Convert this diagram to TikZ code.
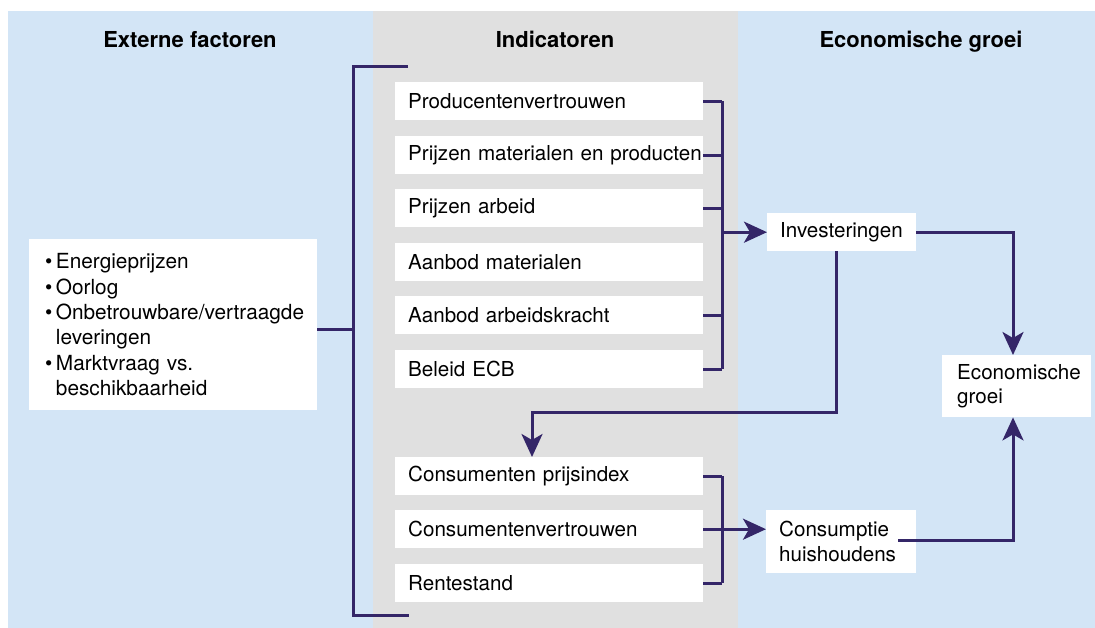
\documentclass[tikz,border=0pt]{standalone}
\usepackage{fontspec}
\setmainfont{TeX Gyre Heros}
\usetikzlibrary{arrows.meta}
\definecolor{panelblue}{RGB}{211,229,246}
\definecolor{panelgrey}{RGB}{224,224,224}
\definecolor{linec}{RGB}{52,38,104}
\tikzset{
  x=1pt, y=-1pt,
  box/.style={fill=white, draw=none, anchor=north west, inner xsep=13pt, inner ysep=0pt,
    align=left, font=\fontsize{20.6}{24.5}\selectfont},
  ind/.style={box, text width=282pt, minimum height=38pt},
  head/.style={anchor=base, font=\fontsize{22}{26}\selectfont\bfseries},
  conn/.style={draw=linec, line width=3pt},
  arr/.style={conn, -{Stealth[length=23pt,width=21pt,inset=6pt]}}
}
\begin{document}
\begin{tikzpicture}
\useasboundingbox (0,0) rectangle (1095,628);
\fill[white] (0,0) rectangle (1095,628);
\fill[panelblue] (8,11) rectangle (373,628);
\fill[panelgrey] (373,11) rectangle (738,628);
\fill[panelblue] (738,11) rectangle (1095,628);

\node[head] (h1) at (190,48) {Externe factoren};
\node[head] (h2) at (555,48) {Indicatoren};
\node[head] (h3) at (921,48) {Economische groei};

% left box
\node[box, text width=256pt, inner xsep=16pt, minimum height=171pt,
  font=\fontsize{20.8}{25.4}\selectfont] (ext) at (29,239)
  {\textbullet\,Energieprijzen\\
   \textbullet\,Oorlog\\
   \textbullet\,\mbox{Onbetrouwbare/vertraagde}\\
   \hphantom{\textbullet\,}leveringen\\
   \textbullet\,Marktvraag vs.\\
   \hphantom{\textbullet\,}beschikbaarheid};

% indicators
\node[ind] (p1) at (395,82)  {Producentenvertrouwen};
\node[ind] (p2) at (395,136) {\mbox{Prijzen materialen en producten}};
\node[ind] (p3) at (395,189) {Prijzen arbeid};
\node[ind] (p4) at (395,243) {Aanbod materialen};
\node[ind] (p5) at (395,296) {Aanbod arbeidskracht};
\node[ind] (p6) at (395,350) {Beleid ECB};

\node[ind] (c1) at (395,457) {Consumenten prijsindex};
\node[ind] (c2) at (395,510) {Consumentenvertrouwen};
\node[ind] (c3) at (395,564) {Rentestand};

% right nodes
\node[box, text width=123pt, minimum height=38pt] (inv) at (767,213) {Investeringen};
\node[box, text width=124pt, minimum height=63pt] (cons) at (766,510) {Consumptie\\huishoudens};
\node[box, text width=119pt, inner xsep=15pt, minimum height=62pt] (eg) at (942,355) {Economische\\groei};

% coordinates
\coordinate (rbx) at (722,0);
\coordinate (lbtop) at (408,67);
\coordinate (lbbot) at (409,615);
\coordinate (lbx) at (353,330);
\coordinate (ex) at (1013,0);
\coordinate (consout) at (898,540);
\coordinate (dn1) at (836,412);
\coordinate (dn2) at (532,412);

% left bracket
\draw[conn] (lbtop) -- (lbtop -| lbx) -- (lbbot -| lbx) -- (lbbot);
\draw[conn] (ext.east |- lbx) -- (lbx);

% upper right bracket
\foreach \n in {p1,p2,p3,p5,p6} \draw[conn] (\n.east) -- (\n.east -| rbx);
\draw[conn] (p1.east -| rbx) -- (p6.east -| rbx);
\draw[arr] (inv.west -| rbx) -- (inv.west);

% lower right bracket
\foreach \n in {c1,c3} \draw[conn] (\n.east) -- (\n.east -| rbx);
\draw[conn] (c1.east -| rbx) -- (c3.east -| rbx);
\draw[arr] (c2.east) -- (c2.east -| cons.west);

% investeringen to economische groei
\draw[arr] (inv.east) -- (inv.east -| ex) -- (eg.north -| ex);
% consumptie to economische groei
\draw[arr] (consout) -- (consout -| ex) -- (eg.south -| ex);
% investeringen down to consumenten prijsindex
\draw[arr] (inv.south -| dn1) -- (dn1) -- (dn2) -- (c1.north -| dn2);
\end{tikzpicture}
\end{document}
